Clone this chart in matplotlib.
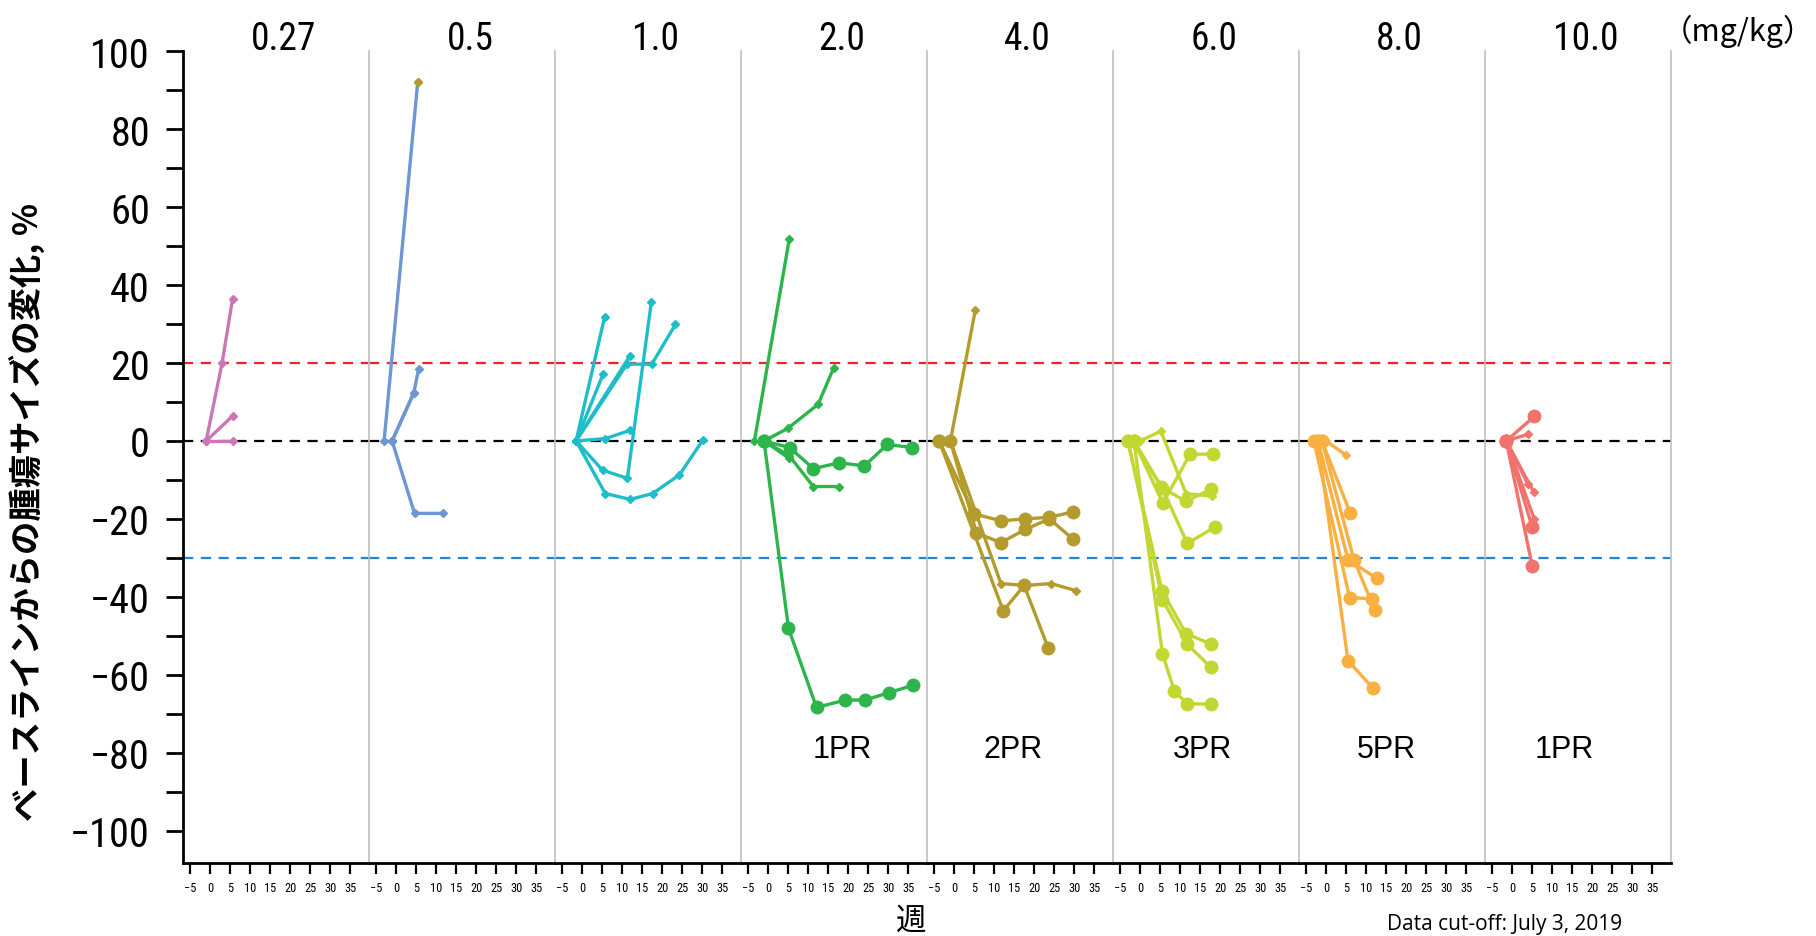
import matplotlib
matplotlib.use('Agg')
import matplotlib.pyplot as plt
from matplotlib import font_manager
from matplotlib.font_manager import FontProperties
from matplotlib.ticker import MultipleLocator

# fonts: look for a narrow sans for the numbers
entries = font_manager.fontManager.ttflist
narrow_file = None
for want in ['Liberation Sans Narrow', 'Roboto Condensed', 'Open Sans Condensed']:
    hits = [f for f in entries if f.name == want and f.style == 'normal' and f.weight in (400, 'normal', 'regular')]
    if hits:
        narrow_file = hits[0].fname
        break
if narrow_file is None:
    hits = [f for f in entries if f.stretch in ('condensed', 'semi-condensed') and f.style == 'normal'
            and f.weight in (400, 'normal', 'regular')]
    if hits:
        narrow_file = hits[0].fname
shrink = 1.0
if narrow_file:
    num_font = lambda size: FontProperties(fname=narrow_file, size=size)
else:
    shrink = 0.85
    num_font = lambda size: FontProperties(family='Liberation Sans', size=size * shrink)
cjk = ['Noto Sans CJK JP', 'DejaVu Sans']
plt.rcParams['font.family'] = ['Liberation Sans', 'Noto Sans CJK JP', 'DejaVu Sans']

# ---- data ----
doses = ['0.27', '0.5', '1.0', '2.0', '4.0', '6.0', '8.0', '10.0']
colors = ['#CC77B5', '#6E96D2', '#1EBEC8', '#2DB44B', '#B49B2D', '#C3D732', '#FAAF41', '#F0736E']
pr_labels = ['', '', '', '1PR', '2PR', '3PR', '5PR', '1PR']
pr_x = [0, 0, 0, 18.6, 14.7, 15.5, 15.2, 13.0]
week_ticks = [-5, 0, 5, 10, 15, 20, 25, 30, 35]
week_ticklabels = ['\u22125', '0', '5', '10', '15', '20', '25', '30', '35']
ref_levels = [20, 0, -30]

# each patient: (weeks, % change, ongoing)
p027 = [([-1, 3, 5.6], [0, 20.1, 36.5], False),
        ([-1, 5.6], [0, 6.4], False),
        ([-1, 5.6], [0, 0], False)]
p05 = [([-3, 5.4], [0, 92.2], False),
       ([-1, 4.4, 5.6], [0, 12.3, 18.4], False),
       ([-1, 4.4], [0, 12.3], False),
       ([-1, 4.6, 11.8], [0, -18.6, -18.6], False)]
p10 = [([-1.5, 5.6], [0, 31.7], False),
       ([-1.5, 5.3], [0, 17.3], False),
       ([-1.5, 11.9], [0, 21.8], False),
       ([-1.5, 11.2, 17.4, 23.3], [0, 19.7, 19.7, 29.9], False),
       ([-1.5, 5.1, 11.3, 17.3], [0, -7.5, -9.6, 35.7], False),
       ([-1.5, 5.8, 11.9], [0, 0.6, 2.7], False),
       ([-1.5, 5.8, 12.0, 17.6, 24.3, 30.1], [0, -13.5, -15.0, -13.5, -8.7, 0.2], False)]
p20 = [([-3.4, 5.3], [0, 51.8], False),
       ([-1, 4.9, 12.5, 16.4], [0, 3.2, 9.4, 18.8], False),
       ([-1, 5.4, 11.3, 17.8, 24.0, 29.8, 35.9], [0, -1.7, -7.1, -5.6, -6.4, -0.9, -1.7], True),
       ([-1, 5.3, 11.3, 17.6], [0, -3.8, -11.7, -11.7], False),
       ([-1, 5.1, 12.1, 19.3, 24.2, 30.2, 36.2], [0, -48.1, -68.4, -66.5, -66.5, -64.6, -62.7], True),
       ([-1, 5.3], [0, -4.5], False)]
p40 = [([-0.9, 5.3], [0, 33.5], False),
       ([-3.7, 5.0, 11.7, 17.8, 23.8, 29.7], [0, -18.7, -20.5, -20.0, -19.6, -18.2], True),
       ([-0.9, 5.6, 11.7, 17.8, 23.8, 29.7], [0, -23.6, -26.1, -22.7, -20.0, -25.2], True),
       ([-0.9, 11.7, 17.8, 24.2, 30.4], [0, -36.6, -37.1, -36.6, -38.4], False),
       ([-3.7, 12.3, 17.5, 23.5], [0, -43.6, -37.1, -53.1], True)]
p60 = [([0, 5.2, 11.5, 18.0], [0, 2.5, -13.5, -14.2], False),
       ([-1.5, 5.7, 12.5, 18.3], [0, -16.0, -3.4, -3.4], True),
       ([-1.5, 5.3, 11.5, 17.7], [0, -11.9, -15.5, -12.4], True),
       ([-1.5, 5.5, 11.8, 18.7], [0, -12.0, -26.3, -22.1], True),
       ([-3, 5.5, 11.5, 17.7], [0, -38.4, -49.5, -52.1], True),
       ([-3, 5.6, 11.8, 17.6], [0, -40.7, -52.2, -58.0], True),
       ([-1.5, 5.6, 8.6, 11.8, 17.8], [0, -54.6, -64.2, -67.5, -67.5], True)]
p80 = [([0, 5.1], [0, -3.7], False),
       ([-1, 6.1], [0, -18.6], True),
       ([-2, 5.5, 12.8], [0, -30.5, -35.3], True),
       ([-1, 7.0, 12.2], [0, -30.5, -43.4], True),
       ([-3, 5.9, 11.4], [0, -40.2, -40.5], True),
       ([-2, 5.5, 11.8], [0, -56.4, -63.5], True)]
p100 = [([-1.4, 5.6], [0, 6.3], True),
        ([-1.4, 4.0], [0, 1.7], False),
        ([-1.4, 4.0], [0, -11.1], False),
        ([-1.4, 5.5], [0, -13.2], False),
        ([-1.4, 5.6], [0, -20.1], False),
        ([-1.4, 5.1], [0, -22.2], True),
        ([-1.4, 5.1], [0, -32.2], True)]
panels = [p027, p05, p10, p20, p40, p60, p80, p100]

# ---- figure ----
fig = plt.figure(figsize=(18.16, 9.37), dpi=100)
W, H = 1816, 937
left, right = 183.3 / W, 1671.0 / W
bottom, top = 1 - 864.3 / H, 1 - 52.3 / H
gs = fig.add_gridspec(1, 8, left=left, right=right, bottom=bottom, top=top, wspace=0)
axes = [fig.add_subplot(gs[0, i]) for i in range(8)]

ref_colors = ['#F2202A', '#000000', '#2484D2']

for i, ax in enumerate(axes):
    ax.set_xlim(-6.7, 39.7)
    ax.set_ylim(-108.4, 100)
    for lvl, rc in zip(ref_levels, ref_colors):
        ax.axhline(lvl, color=rc, lw=1.6, ls=(0, (4.6, 3.4)), zorder=1)
    for weeks, pct, ongoing in panels[i]:
        if ongoing:
            ax.plot(weeks, pct, color=colors[i], lw=2.4, marker='o', ms=9, zorder=3)
        else:
            ax.plot(weeks, pct, color=colors[i], lw=2.4, marker='D', ms=4.4, zorder=3)
    ax.text(18.4, 1.0152, doses[i], transform=ax.get_xaxis_transform(),
            ha='center', va='center', fontproperties=num_font(27))
    if pr_labels[i]:
        ax.text(pr_x[i], -79, pr_labels[i], ha='center', va='center', fontsize=22)

    ax.set_xticks(week_ticks)
    ax.set_xticklabels(week_ticklabels, fontproperties=num_font(8.9))
    ax.tick_params(axis='x', length=8, width=1.6, pad=5, direction='out')
    ax.spines['top'].set_visible(False)
    ax.spines['bottom'].set_linewidth(2.0)
    ax.spines['right'].set_visible(i == 7)
    ax.spines['right'].set_color('#BFBFBF')
    ax.spines['right'].set_linewidth(1.2)
    if i == 0:
        ax.spines['left'].set_linewidth(2.0)
        ax.yaxis.set_major_locator(MultipleLocator(20))
        ax.yaxis.set_minor_locator(MultipleLocator(10))
        ax.set_yticks(range(-100, 101, 20))
        ax.set_yticklabels([('\u2212' + str(-v)) if v < 0 else str(v) for v in range(-100, 101, 20)],
                           fontproperties=num_font(29))
        ax.tick_params(axis='y', which='both', length=12, width=2.0, pad=12)
    else:
        ax.spines['left'].set_color('#BFBFBF')
        ax.spines['left'].set_linewidth(1.2)
        ax.tick_params(axis='y', which='both', left=False, labelleft=False)

# the one 0.5 mg/kg point drawn with a different marker colour
w_top, y_top, _ = p05[0]
axes[1].plot(w_top[-1], y_top[-1], marker='D', ms=4.4, color='#B49B2D', zorder=4)

fig.text(1814 / W, 1 - 31 / H, '（mg/kg）', fontsize=22, family=cjk, ha='right', va='center')
fig.text(911 / W, 1 - 921 / H, '週', fontsize=22, family=cjk, ha='center', va='center')
fig.text(1505 / W, 1 - 925 / H, 'Data cut-off: July 3, 2019', fontsize=15, family='Open Sans',
         ha='center', va='center')
fig.text(27 / W, 1 - 512 / H, 'ベースラインからの腫瘍サイズの変化, %', rotation=90,
         fontsize=24, fontweight='bold', family=cjk, ha='center', va='center')

fig.savefig('out.png', dpi=100)
